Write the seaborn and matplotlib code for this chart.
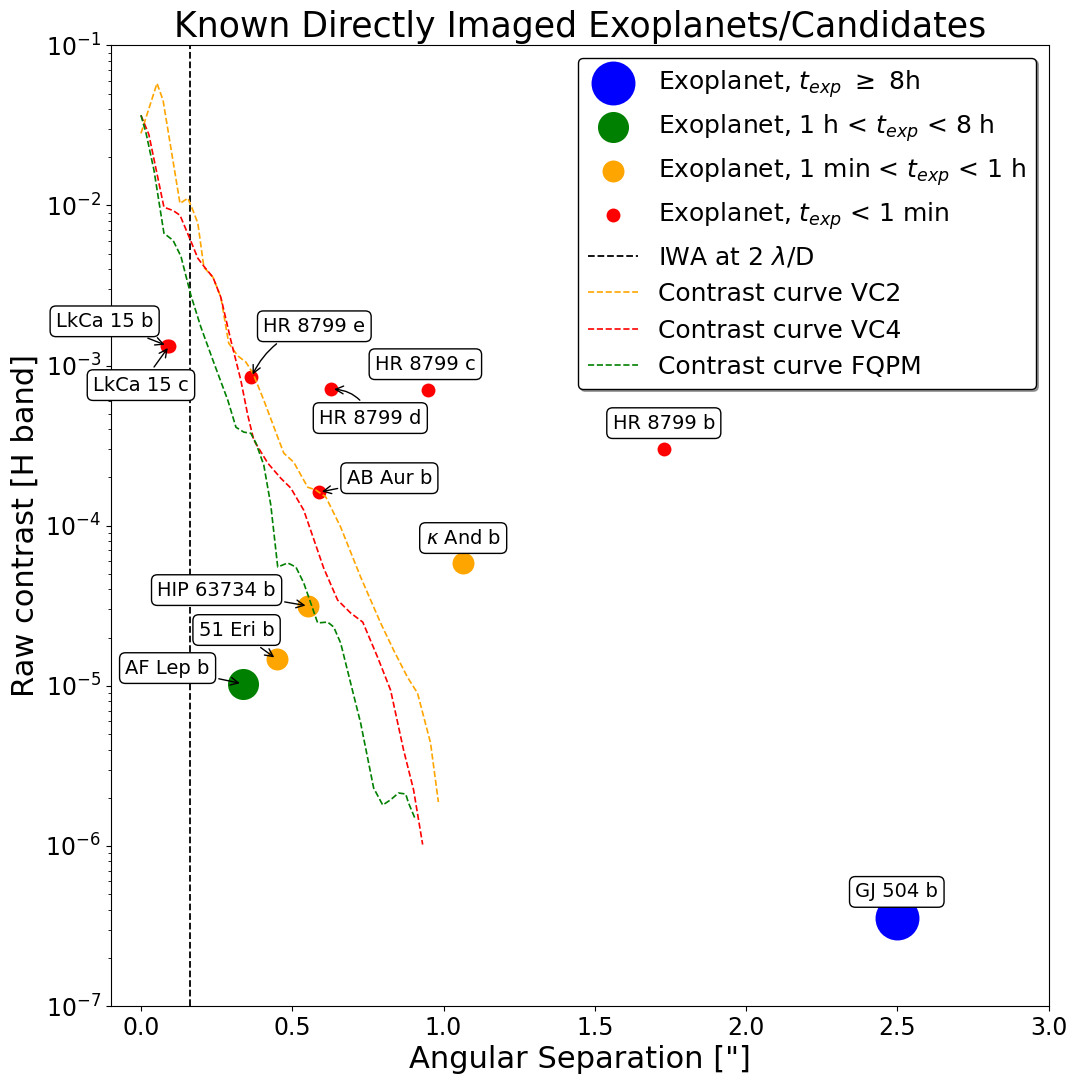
import seaborn as sns
import pandas as pd
import numpy as np
import matplotlib.pyplot as plt

# Planetas conocidos (separación en arcsec, contraste en banda H)
planet_names = ["GJ 504 b", "AF Lep b", "51 Eri b", "HIP 63734 b", r"$\kappa$ And b",
                "AB Aur b", "HR 8799 e", "HR 8799 d", "HR 8799 c", "HR 8799 b",
                "LkCa 15 b", "LkCa 15 c"]
planet_sep = [2.50, 0.336, 0.448, 0.553, 1.065,
              0.589, 0.365, 0.629, 0.950, 1.728,
              0.087, 0.094]
planet_contrast = [3.56e-7, 1.03e-5, 1.47e-5, 3.15e-5, 5.83e-5,
                   1.62e-4, 8.47e-4, 7.13e-4, 7.02e-4, 3.0e-4,
                   1.33e-3, 1.33e-3]
planet_texp = ["long", "mid", "short", "short", "short",
               "fast", "fast", "fast", "fast", "fast",
               "fast", "fast"]

# Posiciones de las etiquetas
label_x = [2.498, 0.088, 0.316, 0.250, 1.065,
           0.821, 0.573, 0.758, 0.940, 1.728,
           -0.120, 0.0]
label_y = [5.16e-7, 1.29e-5, 2.23e-5, 3.96e-5, 8.37e-5,
           1.98e-4, 1.76e-3, 4.70e-4, 1.02e-3, 4.37e-4,
           1.89e-3, 7.55e-4]
label_arrow = [False, True, True, True, False,
               True, True, True, False, False,
               True, True]
label_rad = [0, 0, 0, 0, 0, 0, 0.25, 0.35, 0, 0, 0, 0]

# Curvas de contraste
vc2_sep = [0.000, 0.053, 0.073, 0.129, 0.155, 0.172, 0.188, 0.208, 0.238, 0.264,
           0.290, 0.320, 0.347, 0.370, 0.406, 0.452, 0.472, 0.505, 0.551, 0.578,
           0.611, 0.660, 0.726, 0.792, 0.835, 0.881, 0.914, 0.957, 0.983]
vc2_con = [2.82e-2, 5.79e-2, 4.54e-2, 1.03e-2, 1.11e-2, 9.3e-3, 7.74e-3, 4.11e-3, 3.56e-3, 2.67e-3,
           1.38e-3, 1.15e-3, 1.05e-3, 8.97e-4, 6.08e-4, 3.57e-4, 2.84e-4, 2.49e-4, 1.74e-4, 1.67e-4,
           1.51e-4, 9.8e-5, 4.78e-5, 2.47e-5, 1.67e-5, 1.13e-5, 9.0e-6, 4.40e-6, 1.88e-6]

vc4_sep = [0.000, 0.026, 0.076, 0.106, 0.129, 0.165, 0.188, 0.208, 0.238, 0.264,
           0.297, 0.330, 0.353, 0.373, 0.419, 0.462, 0.495, 0.538, 0.604, 0.650,
           0.693, 0.733, 0.782, 0.825, 0.868, 0.901, 0.931]
vc4_con = [3.66e-2, 2.78e-2, 9.75e-3, 9.3e-3, 8.69e-3, 5.98e-3, 4.68e-3, 4.17e-3, 3.56e-3, 2.67e-3,
           1.44e-3, 8.11e-4, 4.90e-4, 3.42e-4, 2.46e-4, 1.98e-4, 1.72e-4, 1.25e-4, 5.43e-5, 3.43e-5,
           2.85e-5, 2.50e-5, 1.51e-5, 9.4e-6, 3.97e-6, 2.24e-6, 1.02e-6]

fqpm_sep = [0.000, 0.017, 0.043, 0.076, 0.106, 0.132, 0.165, 0.198, 0.241, 0.287,
            0.314, 0.340, 0.363, 0.380, 0.406, 0.429, 0.452, 0.485, 0.512, 0.538,
            0.584, 0.617, 0.637, 0.660, 0.693, 0.726, 0.769, 0.799, 0.825, 0.851,
            0.875, 0.884, 0.908]
fqpm_con = [3.66e-2, 2.82e-2, 1.66e-2, 6.70e-3, 6.06e-3, 4.82e-3, 2.75e-3, 1.74e-3, 1.04e-3, 6.08e-4,
            4.12e-4, 3.84e-4, 3.78e-4, 3.28e-4, 2.39e-4, 1.35e-4, 5.52e-5, 5.85e-5, 5.52e-5, 4.39e-5,
            2.47e-5, 2.50e-5, 2.33e-5, 1.85e-5, 1.04e-5, 5.86e-6, 2.30e-6, 1.80e-6, 1.94e-6, 2.14e-6,
            2.11e-6, 1.86e-6, 1.45e-6]

iwa = 0.163  # 2 lambda/D

df_planets = pd.DataFrame({"name": planet_names, "sep": planet_sep,
                           "contrast": planet_contrast, "texp": planet_texp})

# Estilo de cada categoría de tiempo de exposición
categorias = {
    "long": ("blue", 1000, r"Exoplanet, $t_{exp}$ $\geq$ 8h"),
    "mid": ("green", 500, r"Exoplanet, 1 h < $t_{exp}$ < 8 h"),
    "short": ("orange", 250, r"Exoplanet, 1 min < $t_{exp}$ < 1 h"),
    "fast": ("red", 100, r"Exoplanet, $t_{exp}$ < 1 min"),
}

fig, ax = plt.subplots(figsize=(10.8, 10.8), dpi=100)
fig.subplots_adjust(left=0.1025, right=0.971, bottom=0.0685, top=0.958)

for cat, (col, size, lab) in categorias.items():
    sub = df_planets[df_planets["texp"] == cat]
    sns.scatterplot(data=sub, x="sep", y="contrast", color=col, s=size,
                    linewidth=0, label=lab, ax=ax, legend=False)

ax.axvline(iwa, color="black", linestyle="--", linewidth=1.3, label=r"IWA at 2 $\lambda$/D")

curvas = [(vc2_sep, vc2_con, "orange", "Contrast curve VC2"),
          (vc4_sep, vc4_con, "red", "Contrast curve VC4"),
          (fqpm_sep, fqpm_con, "green", "Contrast curve FQPM")]
for xs, ys, col, lab in curvas:
    sns.lineplot(x=xs, y=ys, color=col, linestyle="--", linewidth=1.2,
                 estimator=None, sort=False, label=lab, ax=ax, legend=False)

# Etiquetas de los planetas
for i, name in enumerate(planet_names):
    arrow = None
    if label_arrow[i]:
        arrow = dict(arrowstyle="->", color="black",
                     connectionstyle=f"arc3,rad={label_rad[i]}")
    ax.annotate(name, xy=(planet_sep[i], planet_contrast[i]),
                xytext=(label_x[i], label_y[i]), fontsize=14,
                ha="center", va="center", arrowprops=arrow,
                bbox=dict(boxstyle="round", fc="white", ec="black"))

ax.set_yscale("log")
ax.set_xlim(-0.1, 3.0)
ax.set_ylim(1e-7, 1e-1)
ax.set_title("Known Directly Imaged Exoplanets/Candidates", fontsize=25)
ax.set_xlabel('Angular Separation ["]', fontsize=22)
ax.set_ylabel("Raw contrast [H band]", fontsize=22)
ax.tick_params(labelsize=17)

orden = [v[2] for v in categorias.values()] + [r"IWA at 2 $\lambda$/D"] + [c[3] for c in curvas]
handles, labels = ax.get_legend_handles_labels()
hmap = dict(zip(labels, handles))
ax.legend([hmap[l] for l in orden], orden, loc="upper right", fontsize=18,
          shadow={"ox": 1.5, "oy": -1.5}, edgecolor="black", framealpha=1)

plt.savefig("out.png", dpi=100)
